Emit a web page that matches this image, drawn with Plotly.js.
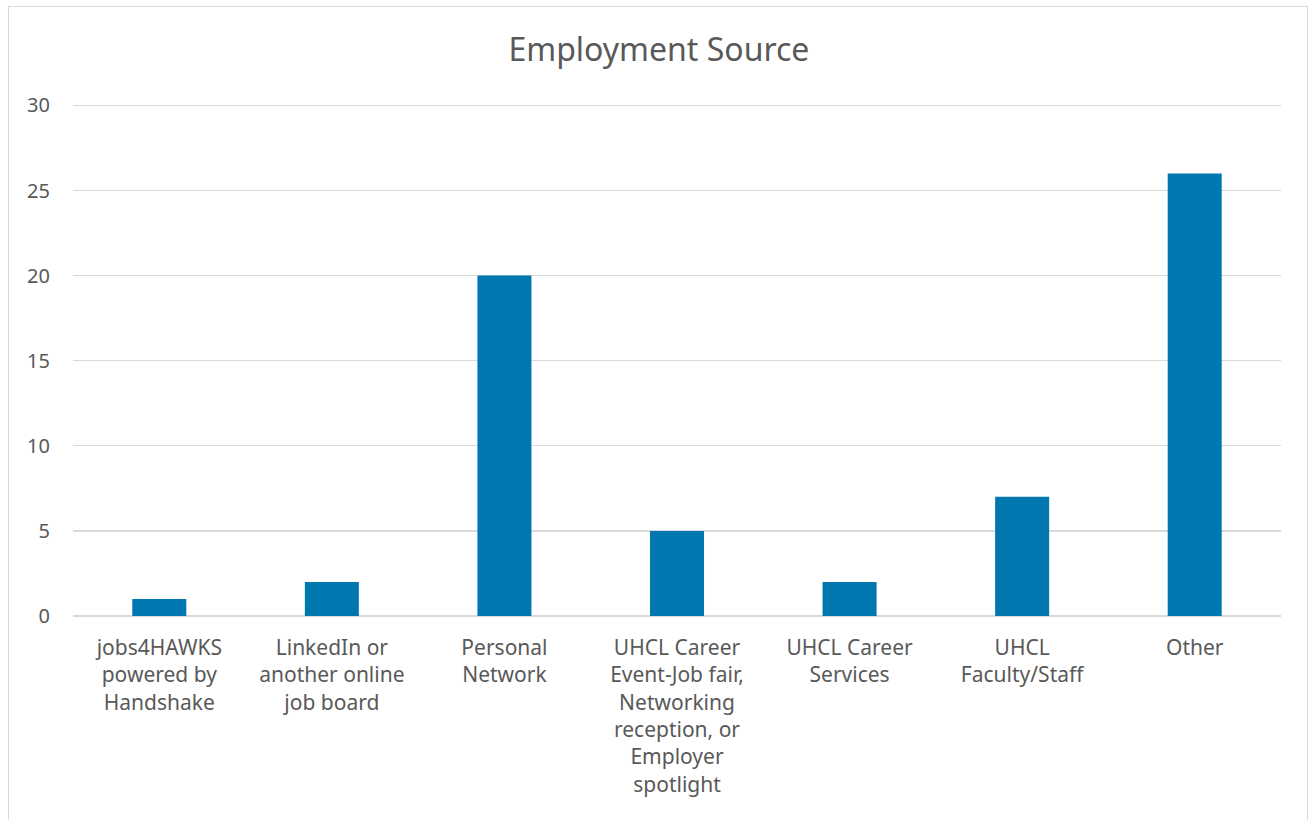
<!DOCTYPE html>
<html><head><meta charset="utf-8">
<script src="https://cdn.plot.ly/plotly-3.0.1.min.js"></script>
<style>
html,body{margin:0;padding:0;background:#fff;}
#wrap{position:relative;width:1310px;height:820px;overflow:hidden;}
#frame{position:absolute;left:8px;top:6px;width:1300px;height:830px;border:1.5px solid #d9d9d9;box-sizing:border-box;pointer-events:none;}
#chart{position:absolute;left:0;top:0;width:1310px;height:820px;}
</style></head>
<body><div id="wrap"><div id="chart"></div><div id="frame"></div></div>
<script>
const categories = [
  "jobs4HAWKS<br>powered by<br>Handshake",
  "LinkedIn or<br>another online<br>job board",
  "Personal<br>Network",
  "UHCL Career<br>Event-Job fair,<br>Networking<br>reception, or<br>Employer<br>spotlight",
  "UHCL Career<br>Services",
  "UHCL<br>Faculty/Staff",
  "Other"
];
const values = [1, 2, 20, 5, 2, 7, 26];
const yTicks = [0, 5, 10, 15, 20, 25, 30];

const fontFam = "Noto Sans, Open Sans, sans-serif";
Plotly.newPlot('chart', [{
  type: 'bar',
  x: categories,
  y: values,
  marker: {color: '#0077AF', line: {width: 0}},
  hoverinfo: 'none'
}], {
  width: 1310, height: 820,
  margin: {l: 73, r: 29, t: 102, b: 204},
  paper_bgcolor: '#fff', plot_bgcolor: '#fff',
  bargap: 0.687,
  showlegend: false,
  title: {text: 'Employment Source', x: 0.503, xanchor: 'center', y: 0.939, yanchor: 'middle',
          font: {family: fontFam, size: 32, color: '#595959'}},
  font: {family: fontFam, color: '#595959'},
  xaxis: {
    type: 'category', tickangle: 0, showgrid: false, zeroline: false,
    showline: false, ticks: '', ticklabelstandoff: 17,
    tickfont: {family: fontFam, size: 21, color: '#595959'}
  },
  yaxis: {
    range: [0, 30.2], tickvals: yTicks, ticktext: yTicks.map(String),
    showgrid: true, gridcolor: '#d9d9d9', gridwidth: 1.3,
    zeroline: true, zerolinecolor: '#d9d9d9', zerolinewidth: 1.3,
    showline: false, ticks: '', ticklabelstandoff: 22,
    tickfont: {family: fontFam, size: 20, color: '#595959'}
  }
}, {displayModeBar: false, staticPlot: true});
</script></body></html>
